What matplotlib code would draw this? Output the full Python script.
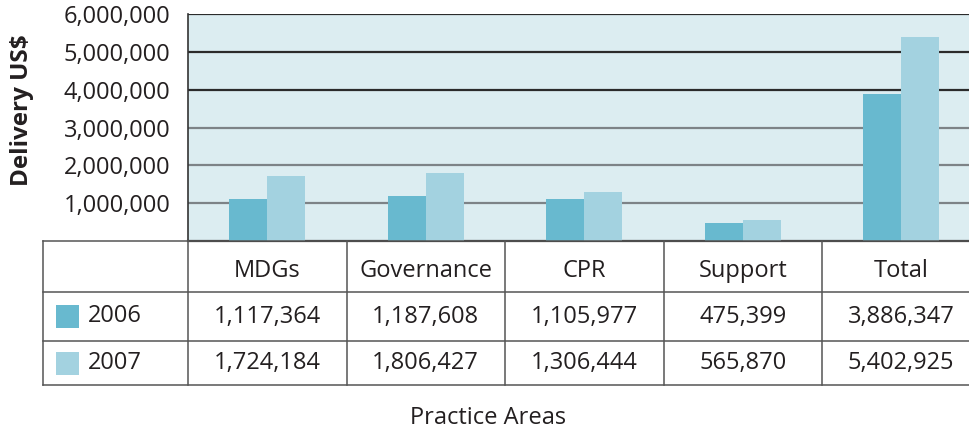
#!/usr/bin/env python3
import matplotlib
matplotlib.use("Agg")
import matplotlib.pyplot as plt
from matplotlib.patches import Rectangle

# data
areas = ["MDGs", "Governance", "CPR", "Support", "Total"]
years = ["2006", "2007"]
delivery_2006 = [1117364, 1187608, 1105977, 475399, 3886347]
delivery_2007 = [1724184, 1806427, 1306444, 565870, 5402925]
yticks = [1000000, 2000000, 3000000, 4000000, 5000000, 6000000]

c2006 = "#68b9cf"
c2007 = "#a3d2e0"
plot_bg = "#dcedf1"
text_c = "#231f20"
line_c = "#555555"

plt.rcParams["font.family"] = ["Open Sans", "DejaVu Sans"]

W, H = 970, 433
fig = plt.figure(figsize=(W / 100, H / 100), dpi=100)

# --- bar chart (runs a little past the right edge of the figure, as in the original) ---
cw = 158.5                            # pixel width of one category
ax = fig.add_axes([188 / W, 1 - 241 / H, cw * len(areas) / W, 227 / H])
ax.set_facecolor(plot_bg)
x = list(range(len(areas)))
bw = 0.24
ax.bar([i - bw / 2 for i in x], delivery_2006, width=bw, color=c2006, zorder=3)
ax.bar([i + bw / 2 for i in x], delivery_2007, width=bw, color=c2007, zorder=3)
ax.set_xlim(-0.5, len(areas) - 0.5)
ax.set_ylim(0, 6000000)
ax.set_xticks([])
ax.set_yticks(yticks)
ax.set_yticklabels([f"{v:,}" for v in yticks], fontsize=17, color=text_c)
ax.tick_params(axis="y", length=0, pad=12.5)
for v in yticks:
    ax.axhline(v, color="#2b2b2b" if v >= 4000000 else "#7d8387", lw=1.6, zorder=2)
for s in ["top", "right"]:
    ax.spines[s].set_visible(False)
ax.spines["left"].set_color("#333333")
ax.spines["left"].set_linewidth(1.2)
ax.spines["bottom"].set_color("#333333")
ax.spines["bottom"].set_linewidth(1.6)

fig.text(22 / W, 1 - 110 / H, "Delivery US$", rotation=90, fontsize=17.5,
         fontweight="bold", color=text_c, ha="center", va="center")

# --- data table under the bars ---
tleft = -0.5 - (188 - 43) / cw       # table left edge in category units
tright = len(areas) - 0.5
tab = fig.add_axes([43 / W, 1 - 385 / H, (188 + cw * len(areas) - 43) / W, 144 / H])
tab.set_xlim(tleft, tright)
tab.set_ylim(385, 241)
tab.axis("off")

rows_y = [241, 292, 341, 385]
for yy in rows_y:
    tab.plot([tleft, tright], [yy, yy], color=line_c, lw=1.1, clip_on=False)
for xx in [tleft] + [i - 0.5 for i in x]:
    tab.plot([xx, xx], [241, 385], color=line_c, lw=1.1, clip_on=False)

fs = 17
for i, name in enumerate(areas):
    tab.text(i, 271, name, ha="center", va="center", fontsize=fs, color=text_c)
for r, (yr, vals, col) in enumerate(zip(years, [delivery_2006, delivery_2007], [c2006, c2007])):
    yc = (rows_y[r + 1] + rows_y[r + 2]) / 2
    tab.add_patch(Rectangle((tleft + 13 / cw, yc - 11.5), 23 / cw, 23, color=col, lw=0))
    tab.text(tleft + 45 / cw, yc, yr, ha="left", va="center", fontsize=fs, color=text_c)
    for i, v in enumerate(vals):
        tab.text(i, yc, f"{v:,}", ha="center", va="center", fontsize=fs, color=text_c)

fig.text(488 / W, 1 - 418 / H, "Practice Areas", ha="center", va="center",
         fontsize=17, color=text_c)

fig.savefig("out.png", dpi=100)
